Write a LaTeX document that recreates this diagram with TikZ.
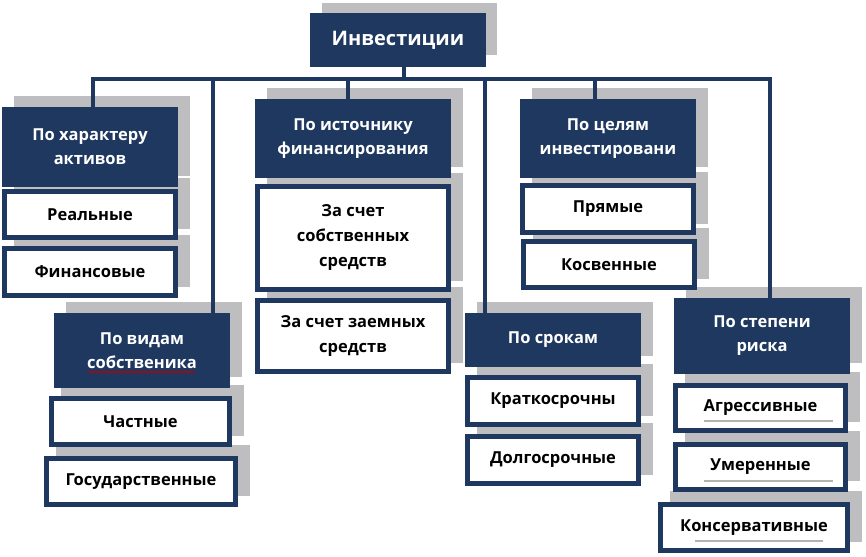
\documentclass[tikz,border=0pt]{standalone}
\usepackage{fontspec}
\setmainfont{Open Sans}
\usetikzlibrary{decorations.pathmorphing}
\definecolor{navy}{RGB}{30,56,96}
\definecolor{shadowc}{RGB}{190,190,192}
\pgfdeclarelayer{bg}\pgfdeclarelayer{mid}\pgfsetlayers{bg,mid,main}
\tikzset{
  darkn/.style={fill=navy, text=white, font=\bfseries\fontsize{16.5}{24}\selectfont, align=center, inner sep=0pt, outer sep=0pt},
  lightn/.style={fill=white, draw=navy, line width=5pt, text=black, font=\bfseries\fontsize{16.5}{25}\selectfont, align=center, inner sep=0pt, outer sep=0pt},
  conn/.style={draw=navy, line width=4.5pt},
  shade/.style={fill=shadowc},
  uline/.style={draw=gray!60, line width=1.5pt}
}
\newcommand{\darkbox}[6]{%
  \begin{pgfonlayer}{bg}\fill[shade] (#2+12,#3-11) rectangle (#4+12,#5-11);\end{pgfonlayer}
  \node[darkn, minimum width={(#4-#2)*1pt}, minimum height={(#5-#3)*1pt}] (#1) at ({(#2+#4)/2},{(#3+#5)/2}) {#6};}
\newcommand{\lightbox}[6]{%
  \begin{pgfonlayer}{bg}\fill[shade] (#2+12,#3-11) rectangle (#4+12,#5-11);\end{pgfonlayer}
  \node[lightn, minimum width={(#4-#2-5)*1pt}, minimum height={(#5-#3-5)*1pt}] (#1) at ({(#2+#4)/2},{(#3+#5)/2}) {#6};}
\begin{document}
\begin{tikzpicture}[x=1pt,y=-1pt]
\useasboundingbox (0,0) rectangle (866,556);
% root
\begin{pgfonlayer}{bg}\fill[shade] (322,3) rectangle (497,55);\end{pgfonlayer}
\node[darkn, font=\bfseries\fontsize{20}{24}\selectfont, minimum width=176pt, minimum height=54pt] (root) at (398,40) {Инвестиции};
% column 1
\darkbox{har}{2}{107}{178}{187}{По характеру\\активов}
\lightbox{real}{2}{189}{178}{240}{Реальные}
\lightbox{fin}{2}{246}{178}{298}{Финансовые}
% column 2
\darkbox{vid}{54}{313}{230}{388}{По видам\\собственика}
\lightbox{chast}{49}{396}{232}{447}{Частные}
\lightbox{gos}{44}{456}{238}{507}{Государственные}
% column 3
\darkbox{ist}{255}{99}{451}{178}{По источнику\\финансирования}
\lightbox{sobst}{255}{184}{451}{292}{За счет\\собственных\\средств}
\lightbox{zaem}{255}{298}{451}{374}{За счет заемных\\средств}
% column 4
\darkbox{cel}{520}{99}{696}{178}{По целям\\инвестировани}
\lightbox{pryam}{520}{183}{696}{235}{Прямые}
\lightbox{kosv}{521}{239}{697}{290}{Косвенные}
% column 5
\darkbox{srok}{465}{313}{641}{367}{По срокам}
\lightbox{krat}{465}{375}{641}{427}{Краткосрочны}
\lightbox{dolg}{465}{434}{641}{486}{Долгосрочные}
% column 6
\darkbox{risk}{674}{298}{850}{374}{По степени\\риска}
\lightbox{agr}{673}{383}{848}{433}{Агрессивные}
\lightbox{umer}{673}{442}{848}{492}{Умеренные}
\lightbox{kons}{658}{502}{850}{553}{Консервативные}
% bus coordinates
\coordinate (b0) at (404,79);
\coordinate (bL) at (91,79);
\coordinate (bR) at (772,79);
\coordinate (b1) at (93,79);
\coordinate (b2) at (213,79);
\coordinate (b3) at (348,79);
\coordinate (b4) at (485,79);
\coordinate (b5) at (595,79);
\coordinate (b6) at (770,79);
\begin{pgfonlayer}{mid}
\draw[conn] (root.south -| b0) -- (b0);
\draw[conn] (bL) -- (bR);
\draw[conn] (b1) -- (b1 |- har.north);
\draw[conn] (b2) -- (b2 |- vid.north);
\draw[conn] (b3) -- (b3 |- ist.north);
\draw[conn] (b4) -- (b4 |- srok.north);
\draw[conn] (b5) -- (b5 |- cel.north);
\draw[conn] (b6) -- (b6 |- risk.north);
\end{pgfonlayer}
% underlines
\draw[red!75!black, line width=0.8pt, decorate, decoration={snake, amplitude=0.8pt, segment length=3pt}] (88,372) -- (195,372);
\draw[uline] (704,421) -- (833,421);
\draw[uline] (704,481) -- (833,481);
\draw[uline] (695,541) -- (823,541);
\end{tikzpicture}
\end{document}
